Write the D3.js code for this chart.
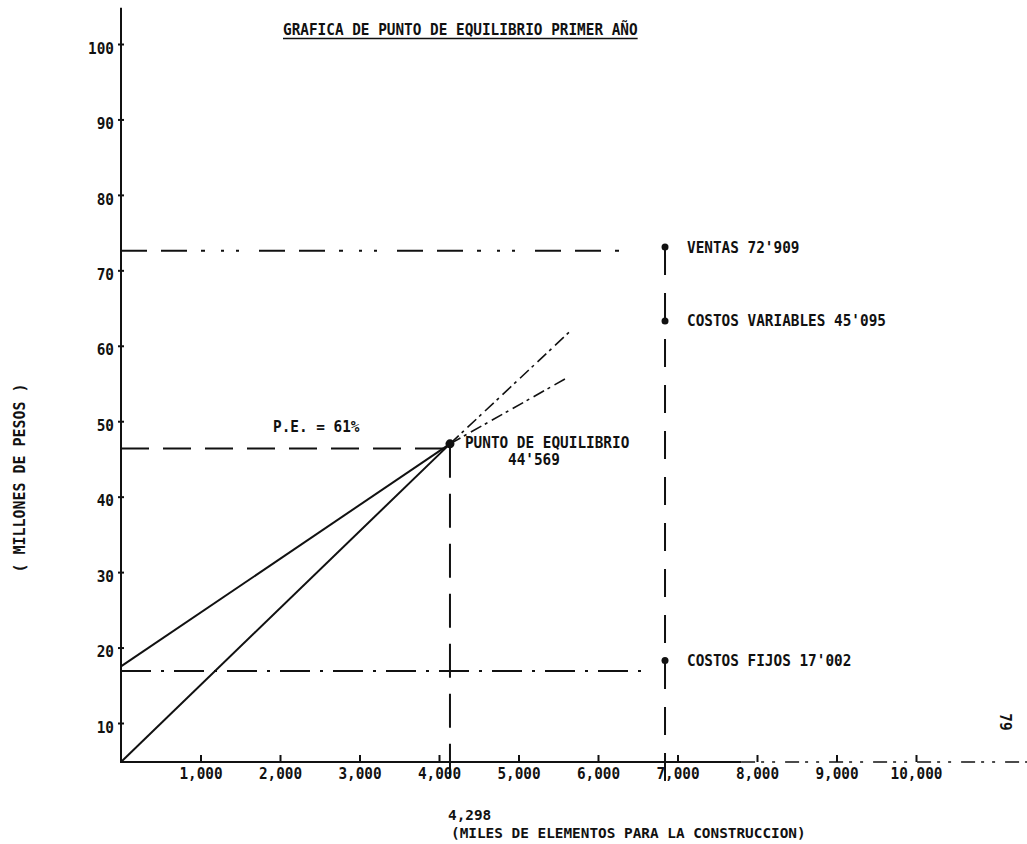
<!DOCTYPE html>
<meta charset="utf-8">
<style>
  body { margin: 0; background: #fff; }
  svg text { font-family: "DejaVu Sans Mono", monospace; font-weight: bold; font-size: 16px; fill: #111; }
  .axis .domain { display: none; }
  .axis line { stroke: #111; stroke-width: 2; }
  .small { font-size: 13.5px; }
</style>
<svg width="1027" height="844"></svg>
<script src="https://d3js.org/d3.v7.min.js"></script>
<script>
// ticks
var xTicks = [1000, 2000, 3000, 4000, 5000, 6000, 7000, 8000, 9000, 10000];
var yTicks = [10, 20, 30, 40, 50, 60, 70, 80, 90, 100];

// lines (miles de elementos, millones de pesos) as drawn
var ventasLine = [[0, 0], [4138, 47], [5657, 62]];
var costosTotalesLine = [[0, 17.5], [4138, 47], [5585, 55.6]];
var puntoEquilibrio = [4138, 47];

// guide levels
var ventasNivel = 72.6, peNivel = 46.4, fijosNivel = 16.9;
var columnaX = 6843;
var columnaPuntos = [
  {name: "VENTAS 72'909", y: 73.1},
  {name: "COSTOS VARIABLES 45'095", y: 63.3},
  {name: "COSTOS FIJOS 17'002", y: 18.3}
];

var pitch = 8.65; // typewriter character pitch

var svg = d3.select("svg");

var x = d3.scaleLinear().domain([0, 10000]).range([121, 916]);
var y = d3.scaleLinear().domain([0, 10, 100]).range([762, 723, 44]);

function fit(sel) {
  sel.attr("textLength", function() { return this.textContent.length * pitch; })
     .attr("lengthAdjust", "spacingAndGlyphs");
  return sel;
}

// x axis
var xAxis = svg.append("g").attr("class", "axis")
    .attr("transform", "translate(0," + y(0) + ")")
    .call(d3.axisBottom(x).tickValues(xTicks).tickSizeInner(-7).tickSizeOuter(0)
      .tickPadding(6).tickFormat(d3.format(",")));
xAxis.selectAll("text").call(fit).attr("font-size", null);

svg.append("line")
    .attr("x1", x(0) - 1).attr("x2", x(7800))
    .attr("y1", y(0)).attr("y2", y(0))
    .attr("stroke", "#111").attr("stroke-width", 2);
svg.append("line")
    .attr("x1", x(7800)).attr("x2", x(11450))
    .attr("y1", y(0)).attr("y2", y(0))
    .attr("stroke", "#111").attr("stroke-width", 1.5)
    .attr("stroke-dasharray", "14,6,3,8,3,10");

// y axis
var yAxis = svg.append("g").attr("class", "axis")
    .attr("transform", "translate(" + x(0) + ",0)")
    .call(d3.axisLeft(y).tickValues(yTicks).tickSizeInner(3).tickSizeOuter(0).tickPadding(4));
yAxis.selectAll(".tick line").attr("x1", 3);
yAxis.selectAll(".tick text").attr("dy", "0.32em").attr("y", 4).call(fit);

svg.append("line")
    .attr("x1", x(0)).attr("x2", x(0))
    .attr("y1", y(0)).attr("y2", y(104.8))
    .attr("stroke", "#111").attr("stroke-width", 2);

// guide lines
function hguide(level, x2, dash) {
  svg.append("line")
    .attr("x1", x(0)).attr("x2", x(x2))
    .attr("y1", y(level)).attr("y2", y(level))
    .attr("stroke", "#111").attr("stroke-width", 2)
    .attr("stroke-dasharray", dash);
}
hguide(ventasNivel, 6300, "26,14,26,14,4,16,3,12,3,20");
hguide(peNivel, puntoEquilibrio[0], "28,14");
hguide(fijosNivel, 6550, "30,10,3,10");

function vguide(xv, top, dash) {
  svg.append("line")
    .attr("x1", x(xv)).attr("x2", x(xv))
    .attr("y1", y(top)).attr("y2", y(-8))
    .attr("stroke", "#111").attr("stroke-width", 2)
    .attr("stroke-dasharray", dash);
}
vguide(puntoEquilibrio[0], puntoEquilibrio[1], "34,16");
vguide(columnaX, 73.1, "28,18");

// sales and total cost lines: solid to the break-even, broken beyond
var line = d3.line().x(function(d) { return x(d[0]); }).y(function(d) { return y(d[1]); });
[ventasLine, costosTotalesLine].forEach(function(pts) {
  svg.append("path").attr("d", line(pts.slice(0, 2)))
    .attr("fill", "none").attr("stroke", "#111").attr("stroke-width", 2);
  svg.append("path").attr("d", line(pts.slice(1)))
    .attr("fill", "none").attr("stroke", "#111").attr("stroke-width", 1.6)
    .attr("stroke-dasharray", "12,4,3,5");
});

// points
svg.append("circle")
    .attr("cx", x(puntoEquilibrio[0])).attr("cy", y(puntoEquilibrio[1]))
    .attr("r", 4.5).attr("fill", "#111");

svg.selectAll(".pt").data(columnaPuntos).enter().append("circle")
    .attr("cx", x(columnaX)).attr("cy", function(d) { return y(d.y); })
    .attr("r", 3.5).attr("fill", "#111");

svg.selectAll(".lbl").data(columnaPuntos).enter().append("text")
    .attr("x", x(columnaX) + 22).attr("y", function(d) { return y(d.y); })
    .attr("dy", "0.35em")
    .text(function(d) { return d.name; })
    .call(fit);

// annotations
svg.append("text").attr("x", x(0) + 152).attr("y", y(peNivel) - 22).attr("dy", "0.35em")
    .text("P.E. = 61%").call(fit);
svg.append("text").attr("x", x(puntoEquilibrio[0]) + 15).attr("y", y(puntoEquilibrio[1]) - 1).attr("dy", "0.35em")
    .text("PUNTO DE EQUILIBRIO").call(fit);
svg.append("text").attr("x", x(puntoEquilibrio[0]) + 84).attr("y", y(puntoEquilibrio[1]) + 16).attr("dy", "0.35em")
    .attr("text-anchor", "middle")
    .text("44'569").call(fit);

// title
var title = svg.append("text").attr("x", 283).attr("y", 29).attr("dy", "0.35em")
    .text("GRAFICA DE PUNTO DE EQUILIBRIO PRIMER AÑO").call(fit);
var tb = title.node().getBBox();
svg.append("line").attr("x1", tb.x).attr("x2", tb.x + tb.width)
    .attr("y1", 38.5).attr("y2", 38.5).attr("stroke", "#111").attr("stroke-width", 1.6);

// axis titles
svg.append("text").attr("class", "small").attr("x", 448).attr("y", 815).attr("dy", "0.35em")
    .text("4,298").call(fit);
svg.append("text").attr("class", "small").attr("x", 451).attr("y", 833).attr("dy", "0.35em")
    .text("(MILES DE ELEMENTOS PARA LA CONSTRUCCION)").call(fit);
svg.append("text")
    .attr("transform", "translate(19,478) rotate(-90)")
    .attr("text-anchor", "middle").attr("dy", "0.35em")
    .text("( MILLONES DE PESOS )")
    .attr("textLength", 189).attr("lengthAdjust", "spacingAndGlyphs");

// page number
svg.append("text")
    .attr("transform", "translate(1006,722) rotate(90)")
    .attr("text-anchor", "middle").attr("dy", "0.35em")
    .text("79").call(fit);
</script>
